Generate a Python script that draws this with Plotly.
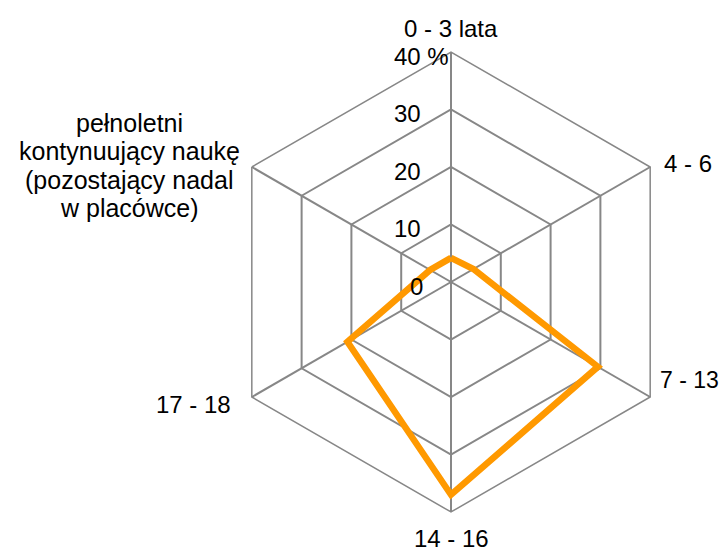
import math
import plotly.graph_objects as go

categories = ["0 - 3 lata", "4 - 6", "7 - 13", "14 - 16", "17 - 18", "pełnoletni"]
long_label_lines = ["pełnoletni", "kontynuujący naukę", "(pozostający nadal", "w placówce)"]
values = [4.2, 4.5, 29.5, 37, 20.8, 4.2]
tick_vals = [0, 10, 20, 30, 40]
tick_text = ["0", "10", "20", "30", "40 %"]

# page offset caused by default HTML body margin
OFF = 8
W, H = 720, 543
cx, cy, R = 451 - OFF, 282 - OFF, 230
RMAX = 40


def px(x):
    return (x - OFF) / W


def py(y):
    return 1 - (y - OFF) / H


fig = go.Figure()
fig.add_trace(go.Scatterpolar(
    r=values + [values[0]],
    theta=categories + [categories[0]],
    mode="lines",
    line=dict(color="#FF9900", width=6.5),
    hoverinfo="skip",
    showlegend=False,
))

grid = "#878787"
annotations = []

# radial tick labels, positioned from the radial scale
for v, t in zip(tick_vals, tick_text):
    y_page = (cy + OFF) - v / RMAX * R + 4
    x_left = 408 if t == "0" else 392
    annotations.append(dict(
        text=t, x=px(x_left), y=py(y_page), xref="paper", yref="paper",
        xanchor="left", yanchor="middle", showarrow=False,
        font=dict(size=24, color="black"),
    ))

# category labels placed next to the outer vertex of each spoke
label_style = [  # (dx, dy, xanchor, size)
    (0, -24, "center", 24),
    (12, -3, "left", 24),
    (8, -17, "left", 23),
    (0, 26, "center", 24),
    (-19, 7, "right", 24),
]
n = len(categories)
for i, (cat, (dx, dy, xa, fs)) in enumerate(zip(categories[:-1], label_style)):
    ang = 2 * math.pi * i / n
    vx = cx + OFF + R * math.sin(ang)
    vy = cy + OFF - R * math.cos(ang)
    annotations.append(dict(
        text=cat, x=px(vx + dx), y=py(vy + dy), xref="paper", yref="paper",
        xanchor=xa, yanchor="middle", showarrow=False,
        font=dict(size=fs, color="black"),
    ))

# wrapped category label (centered lines)
for i, line in enumerate(long_label_lines):
    y_base = 130 + i * 28.3
    annotations.append(dict(
        text=line, x=px(129), y=py(y_base - 7), xref="paper", yref="paper",
        xanchor="center", yanchor="middle", showarrow=False,
        font=dict(size=25, color="black"),
    ))

fig.update_layout(
    width=W, height=H,
    margin=dict(l=0, r=0, t=0, b=0),
    paper_bgcolor="white",
    plot_bgcolor="white",
    font=dict(family="Liberation Sans, Arial, sans-serif", size=24, color="black"),
    annotations=annotations,
    polar=dict(
        domain=dict(x=[(cx - R) / W, (cx + R) / W], y=[1 - (cy + R) / H, 1 - (cy - R) / H]),
        bgcolor="white",
        gridshape="linear",
        radialaxis=dict(
            range=[0, RMAX], tickvals=tick_vals,
            angle=90, showline=False, ticks="", showticklabels=False,
            gridcolor=grid, gridwidth=1.5,
        ),
        angularaxis=dict(
            direction="clockwise", rotation=90,
            tickmode="array", tickvals=categories,
            showline=True, linecolor=grid, linewidth=1.5,
            gridcolor=grid, gridwidth=1.5, ticks="", showticklabels=False,
        ),
    ),
)
fig.write_html("out.html")
